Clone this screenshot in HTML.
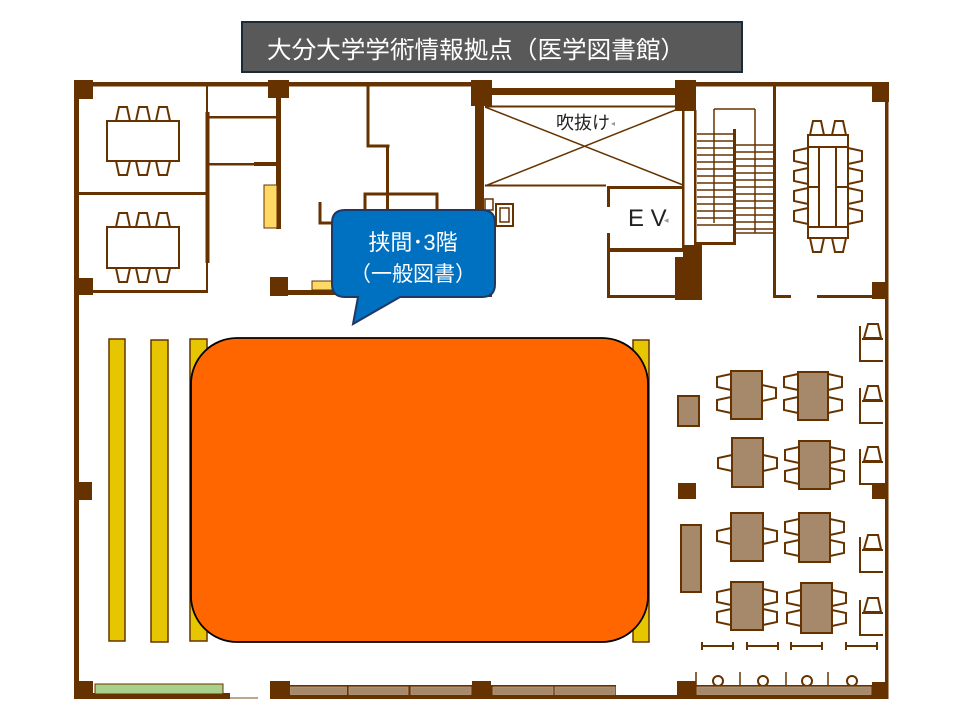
<!DOCTYPE html>
<html><head><meta charset="utf-8">
<style>html,body{margin:0;padding:0;background:#fff}svg{display:block}text{font-family:"Liberation Sans","Noto Sans CJK JP",sans-serif}</style>
</head><body>
<svg width="960" height="720" viewBox="0 0 960 720" xmlns="http://www.w3.org/2000/svg">
<defs>
<polygon id="cu" points="-4,-14 4,-14 7,0 -7,0" fill="#fff" stroke="#663300" stroke-width="2"/>
<polygon id="cd" points="-4,14 4,14 7,0 -7,0" fill="#fff" stroke="#663300" stroke-width="2"/>
<polygon id="cl" points="-14,-5 -14,5 0,8 0,-8" fill="#fff" stroke="#663300" stroke-width="2"/>
<polygon id="cr" points="14,-5 14,5 0,8 0,-8" fill="#fff" stroke="#663300" stroke-width="2"/>
<g id="carrel" fill="none" stroke="#663300" stroke-width="2">
<line x1="860" y1="2" x2="860" y2="37"/><line x1="859" y1="37" x2="883" y2="37"/><line x1="862" y1="15" x2="883" y2="15"/>
<polygon points="868,0 878,0 881,14 864,14" fill="#fff"/>
</g>
<g id="hbar" stroke="#663300" stroke-width="2"><line x1="0" y1="0" x2="31" y2="0"/><line x1="0" y1="-4" x2="0" y2="4"/><line x1="31" y1="-4" x2="31" y2="4"/></g>
</defs>

<!-- title -->
<rect x="242" y="22" width="500" height="50" fill="#595959" stroke="#1b2a38" stroke-width="2"/>
<text x="267" y="58" font-size="24" fill="#fff" textLength="418" lengthAdjust="spacingAndGlyphs">大分大学学術情報拠点（医学図書館）</text>

<g fill="#663300">
<rect x="74" y="82" width="397" height="4.5"/>
<rect x="74" y="80" width="19" height="19"/>
<rect x="268" y="80" width="21" height="18"/>
<rect x="471" y="80" width="21" height="26"/>
<rect x="492" y="88" width="183" height="7"/>
<rect x="675" y="80" width="21" height="31"/>
<rect x="696" y="82" width="176" height="4.5"/>
<rect x="872" y="82" width="17" height="20"/>
<rect x="885" y="82" width="3.5" height="617"/>
<rect x="74" y="80" width="5" height="619"/>
<rect x="74" y="482" width="18" height="18"/>
<rect x="74" y="278" width="19" height="17"/>

<rect x="79" y="192" width="128" height="3"/>
<rect x="93" y="290" width="115" height="3"/>
<rect x="206" y="86" width="2" height="206"/>
<rect x="205.5" y="112" width="4" height="151"/>
<rect x="208" y="116" width="69" height="2.5"/>
<rect x="208" y="163" width="69" height="2.5"/>
<rect x="254" y="162" width="23" height="4"/>
<rect x="276" y="98" width="5" height="131"/>
<rect x="270" y="277" width="18" height="19"/>
<rect x="288" y="290" width="187" height="5"/>

<rect x="366.5" y="86" width="3" height="60"/>
<rect x="366.5" y="144.5" width="23" height="3"/>
<rect x="386" y="146" width="3" height="70"/>
<rect x="475" y="106" width="9" height="190"/>
<rect x="471" y="280" width="21" height="17"/>

<rect x="607" y="186" width="76" height="3"/>
<rect x="607" y="186" width="3" height="21"/>
<rect x="607" y="233" width="3" height="65"/>
<rect x="610" y="248" width="73" height="4"/>
<rect x="608" y="295" width="70" height="3"/>
<rect x="683" y="245" width="19" height="55"/>
<rect x="675" y="257" width="8" height="43"/>

<rect x="682" y="110" width="2.5" height="138"/>
<rect x="694" y="110" width="2.5" height="135"/>
<rect x="733" y="129" width="3" height="116"/>
<rect x="696" y="242" width="40" height="3"/>
<rect x="773" y="82" width="3" height="216"/>
<rect x="773" y="295" width="18" height="3"/>
<rect x="817" y="295" width="55" height="3"/>
<rect x="872" y="282" width="16" height="17"/>

<rect x="678" y="483" width="18" height="16"/>
<rect x="872" y="483" width="13" height="16"/>

<rect x="74" y="693" width="156" height="6"/>
<rect x="74" y="681" width="19" height="18"/>
<rect x="270" y="681" width="20" height="18"/>
<rect x="270" y="695" width="407" height="4"/>
<rect x="290" y="685" width="326" height="14"/>
<rect x="472" y="681" width="19" height="18"/>
<rect x="677" y="681" width="19" height="18"/>
<rect x="695" y="685" width="177" height="14"/>
<rect x="872" y="682" width="16" height="17"/>
</g>

<g fill="none" stroke="#663300">
<path d="M365,215 V194 H437 V215" stroke-width="3"/>
<path d="M320,202 V223 H334" stroke-width="3"/>
<line x1="485" y1="106.5" x2="683" y2="106.5" stroke-width="2"/>
<line x1="485" y1="185.5" x2="606" y2="185.5" stroke-width="2"/>
<line x1="485" y1="107" x2="683" y2="185" stroke-width="1.5"/>
<line x1="683" y1="107" x2="485" y2="186" stroke-width="1.5"/>
<rect x="485" y="199" width="8" height="11" stroke-width="1.5"/>
<rect x="496" y="204" width="17" height="22" stroke-width="2"/>
<rect x="500" y="208" width="9" height="14" stroke-width="1.5"/>
<line x1="714" y1="109" x2="755" y2="109" stroke-width="1.5"/>
<line x1="714" y1="109" x2="714" y2="223" stroke-width="1.5"/>
<line x1="755" y1="109" x2="755" y2="233" stroke-width="1.5"/>
<g stroke-width="1.5">
<line x1="697" y1="134" x2="734" y2="134"/><line x1="697" y1="141" x2="734" y2="141"/><line x1="697" y1="148" x2="734" y2="148"/><line x1="697" y1="155" x2="734" y2="155"/><line x1="697" y1="162" x2="734" y2="162"/><line x1="697" y1="169" x2="734" y2="169"/><line x1="697" y1="176" x2="734" y2="176"/><line x1="697" y1="183" x2="734" y2="183"/><line x1="697" y1="190" x2="734" y2="190"/><line x1="697" y1="197" x2="734" y2="197"/><line x1="697" y1="204" x2="734" y2="204"/><line x1="697" y1="211" x2="734" y2="211"/><line x1="697" y1="218" x2="734" y2="218"/><line x1="697" y1="225" x2="734" y2="225"/>
<line x1="736" y1="145" x2="773" y2="145"/><line x1="736" y1="152" x2="773" y2="152"/><line x1="736" y1="159" x2="773" y2="159"/><line x1="736" y1="166" x2="773" y2="166"/><line x1="736" y1="173" x2="773" y2="173"/><line x1="736" y1="180" x2="773" y2="180"/><line x1="736" y1="187" x2="773" y2="187"/><line x1="736" y1="194" x2="773" y2="194"/><line x1="736" y1="201" x2="773" y2="201"/><line x1="736" y1="208" x2="773" y2="208"/><line x1="736" y1="215" x2="773" y2="215"/><line x1="736" y1="222" x2="773" y2="222"/><line x1="736" y1="229" x2="773" y2="229"/><line x1="736" y1="233" x2="773" y2="233"/>
</g>
<rect x="808" y="135" width="40" height="103" fill="#fff" stroke-width="2"/>
<line x1="808" y1="147" x2="848" y2="147" stroke-width="2"/>
<line x1="808" y1="227" x2="848" y2="227" stroke-width="2"/>
<line x1="819" y1="147" x2="819" y2="227" stroke-width="2"/>
<line x1="836" y1="147" x2="836" y2="227" stroke-width="2"/>
<line x1="808" y1="187" x2="819" y2="187" stroke-width="2"/>
<line x1="836" y1="187" x2="848" y2="187" stroke-width="2"/>
<g stroke-width="1.5"><line x1="696" y1="672" x2="696" y2="687"/><line x1="740" y1="672" x2="740" y2="687"/><line x1="786" y1="672" x2="786" y2="687"/><line x1="828" y1="672" x2="828" y2="687"/></g>
<g stroke-width="2" fill="#fff"><circle cx="718" cy="681" r="5"/><circle cx="763" cy="681" r="5"/><circle cx="807" cy="681" r="5"/><circle cx="852" cy="681" r="5"/></g>
<line x1="230" y1="698" x2="258" y2="698" stroke="#a6896b" stroke-width="1.5"/>
</g>

<g fill="#fff" stroke="#663300" stroke-width="2">
<rect x="107" y="121" width="72" height="40"/>
<rect x="107" y="227" width="72" height="41"/>
</g>
<use href="#cu" x="123" y="121"/><use href="#cu" x="143" y="121"/><use href="#cu" x="163" y="121"/>
<use href="#cd" x="123" y="161"/><use href="#cd" x="143" y="161"/><use href="#cd" x="163" y="161"/>
<use href="#cu" x="123" y="227"/><use href="#cu" x="143" y="227"/><use href="#cu" x="163" y="227"/>
<use href="#cd" x="123" y="268"/><use href="#cd" x="143" y="268"/><use href="#cd" x="163" y="268"/>

<use href="#cu" x="817" y="135"/><use href="#cu" x="839" y="135"/>
<use href="#cd" x="817" y="238"/><use href="#cd" x="839" y="238"/>
<use href="#cl" x="808" y="156"/><use href="#cl" x="808" y="176"/><use href="#cl" x="808" y="196"/><use href="#cl" x="808" y="216"/>
<use href="#cr" x="848" y="156"/><use href="#cr" x="848" y="176"/><use href="#cr" x="848" y="196"/><use href="#cr" x="848" y="216"/>

<rect x="264" y="185" width="13" height="43" fill="#FFD966" stroke="#663300" stroke-width="1"/>
<rect x="312" y="281" width="36" height="9" fill="#FFD966" stroke="#663300" stroke-width="1"/>

<rect x="95" y="684" width="128" height="10" fill="#A9D18E" stroke="#663300" stroke-width="1"/>
<g fill="#A6896B" stroke="#b79c80" stroke-width="0.8">
<rect x="290.5" y="687" width="56" height="7.5"/>
<rect x="349" y="687" width="59" height="7.5"/>
<rect x="411" y="687" width="60" height="7.5"/>
<rect x="493" y="687" width="60" height="7.5"/>
<rect x="555" y="687" width="60" height="7.5"/>
<rect x="697" y="687" width="174" height="7.5"/>
</g>

<g fill="#E5C600" stroke="#663300" stroke-width="1.5">
<rect x="109" y="339" width="16" height="302"/>
<rect x="151" y="340" width="17" height="302"/>
<rect x="190" y="339" width="17" height="302"/>
<rect x="633" y="340" width="16" height="302"/>
</g>

<rect x="191" y="338" width="457" height="304" rx="46" ry="46" fill="#FF6600" stroke="#000" stroke-width="1.8"/>

<g fill="#A6896B" stroke="#663300" stroke-width="2">
<rect x="678" y="396" width="21" height="30"/>
<rect x="681" y="525" width="20" height="67"/>
<rect x="731" y="371" width="31" height="48"/>
<rect x="798" y="372" width="30" height="48"/>
<rect x="732" y="438" width="31" height="49"/>
<rect x="799" y="441" width="31" height="48"/>
<rect x="731" y="513" width="32" height="48"/>
<rect x="799" y="513" width="31" height="49"/>
<rect x="731" y="582" width="32" height="48"/>
<rect x="801" y="583" width="31" height="50"/>
</g>
<use href="#cl" x="731" y="382"/><use href="#cl" x="731" y="405"/><use href="#cr" x="762" y="393"/>
<use href="#cl" x="798" y="382"/><use href="#cl" x="798" y="405"/><use href="#cr" x="828" y="382"/><use href="#cr" x="828" y="405"/>
<use href="#cl" x="732" y="463"/><use href="#cr" x="763" y="463"/>
<use href="#cl" x="799" y="455"/><use href="#cl" x="799" y="476"/><use href="#cr" x="830" y="455"/><use href="#cr" x="830" y="476"/>
<use href="#cl" x="731" y="536"/><use href="#cr" x="763" y="536"/>
<use href="#cl" x="799" y="527"/><use href="#cl" x="799" y="548"/><use href="#cr" x="830" y="527"/><use href="#cr" x="830" y="548"/>
<use href="#cl" x="731" y="597"/><use href="#cl" x="731" y="617"/><use href="#cr" x="763" y="597"/><use href="#cr" x="763" y="617"/>
<use href="#cl" x="801" y="598"/><use href="#cl" x="801" y="618"/><use href="#cr" x="832" y="598"/><use href="#cr" x="832" y="618"/>

<use href="#carrel" x="0" y="324"/>
<use href="#carrel" x="0" y="386"/>
<use href="#carrel" x="0" y="447"/>
<use href="#carrel" x="0" y="535"/>
<use href="#carrel" x="0" y="598"/>

<use href="#hbar" x="702" y="646"/>
<use href="#hbar" x="747" y="646"/>
<use href="#hbar" x="791" y="646"/>
<use href="#hbar" x="846" y="646"/>

<text x="556" y="129" font-size="18" fill="#222">吹抜け</text>
<text x="611" y="126" font-size="8" fill="#999">◂</text>
<text x="628" y="226" font-size="24" fill="#222">E V</text>
<text x="664" y="223" font-size="9" fill="#999">◂</text>

<path d="M345,210 H482 Q495,210 495,223 V284 Q495,297 482,297 H400 L353,324 L358,297 H345 Q332,297 332,284 V223 Q332,210 345,210 Z" fill="#0070C0" stroke="#1F3864" stroke-width="2"/>
<text x="413" y="250" font-size="22" fill="#fff" text-anchor="middle">挟間･3階</text>
<text x="413" y="281" font-size="21" fill="#fff" text-anchor="middle">（一般図書）</text>
</svg>
</body></html>
